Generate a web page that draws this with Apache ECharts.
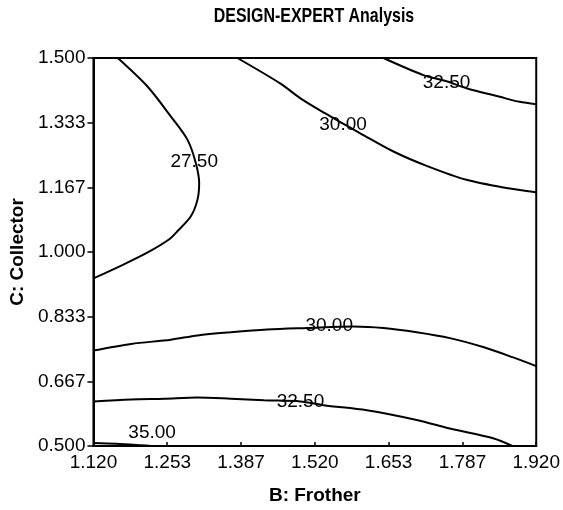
<!DOCTYPE html>
<html>
<head>
<meta charset="utf-8">
<script src="https://cdn.jsdelivr.net/npm/echarts@6/dist/echarts.min.js"></script>
<style>
html,body{margin:0;padding:0;background:#fff;}
#chart{width:563px;height:510px;}
</style>
</head>
<body>
<div id="chart"></div>
<script>
// Axis tick labels
const xTickLabels = ['1.120', '1.253', '1.387', '1.520', '1.653', '1.787', '1.920'];
const yTickLabels = ['0.500', '0.667', '0.833', '1.000', '1.167', '1.333', '1.500'];

// Contour lines [B: Frother, C: Collector]
const contour27_50 = [[1.164,1.500],[1.218,1.426],[1.260,1.349],[1.290,1.289],[1.305,1.229],[1.311,1.178],[1.308,1.135],[1.296,1.092],[1.272,1.054],[1.257,1.033],[1.218,0.999],[1.176,0.969],[1.120,0.932]];
const contour30_00a = [[1.380,1.500],[1.458,1.434],[1.494,1.396],[1.539,1.357],[1.571,1.331],[1.602,1.306],[1.662,1.259],[1.722,1.222],[1.794,1.186],[1.866,1.165],[1.920,1.154]];
const contour32_50a = [[1.644,1.500],[1.716,1.456],[1.758,1.440],[1.794,1.422],[1.854,1.400],[1.890,1.387],[1.920,1.381]];
const contour30_00b = [[1.120,0.746],[1.188,0.763],[1.260,0.774],[1.308,0.785],[1.368,0.793],[1.434,0.800],[1.506,0.804],[1.590,0.808],[1.644,0.804],[1.704,0.793],[1.764,0.778],[1.824,0.755],[1.877,0.729],[1.920,0.706]];
const contour32_50b = [[1.120,0.615],[1.188,0.620],[1.248,0.622],[1.308,0.625],[1.368,0.622],[1.428,0.618],[1.494,0.615],[1.536,0.605],[1.614,0.592],[1.704,0.567],[1.764,0.545],[1.842,0.520],[1.877,0.500]];
const contour35_00 = [[1.120,0.508],[1.161,0.506],[1.206,0.502],[1.225,0.500]];

// Contour labels [x, y, text]
const contourLabels = [[1.302,1.232,'27.50'],[1.571,1.329,'30.00'],[1.758,1.437,'32.50'],[1.546,0.809,'30.00'],[1.494,0.615,'32.50'],[1.226,0.535,'35.00']];

const contours = [contour27_50, contour30_00a, contour32_50a, contour30_00b, contour32_50b, contour35_00];

const xMin = 1.12, xMax = 1.92, yMin = 0.5, yMax = 1.5;
const xStep = (xMax - xMin) / (xTickLabels.length - 1);
const yStep = (yMax - yMin) / (yTickLabels.length - 1);

const FONT = 'Liberation Sans, Arial, sans-serif';

const series = contours.map(c => ({
  type: 'line',
  data: c,
  smooth: 0.3,
  symbol: 'none',
  lineStyle: { color: '#000', width: 2 },
  silent: true
}));
series.push({
  type: 'scatter',
  data: contourLabels,
  symbolSize: 1,
  silent: true,
  itemStyle: { opacity: 1, color: 'rgba(0,0,0,0)' },
  label: {
    show: true,
    position: 'inside',
    formatter: p => p.data[2],
    color: '#000',
    opacity: 1,
    fontFamily: FONT,
    fontSize: 19
  }
});

const chart = echarts.init(document.getElementById('chart'), null, { renderer: 'canvas' });
chart.setOption({
  animation: false,
  backgroundColor: '#fff',
  graphic: [{
    type: 'text',
    x: 314,
    y: 16,
    scaleX: 0.76,
    style: {
      text: 'DESIGN-EXPERT Analysis',
      fill: '#000',
      font: 'bold 21px Liberation Sans, Arial, sans-serif',
      align: 'center',
      verticalAlign: 'middle'
    }
  }],
  grid: { left: 92, right: 26, top: 58, bottom: 62, show: true, borderColor: '#000', borderWidth: 2, backgroundColor: 'transparent' },
  xAxis: {
    type: 'value',
    min: xMin, max: xMax, interval: xStep,
    name: 'B: Frother',
    nameLocation: 'middle',
    nameGap: 40,
    nameTextStyle: { fontFamily: FONT, fontWeight: 'bold', fontSize: 19, color: '#000' },
    axisLine: { show: true, lineStyle: { color: '#000', width: 2 } },
    axisTick: { show: true, inside: true, length: 4, lineStyle: { color: '#000', width: 1.5 } },
    axisLabel: { margin: 7, color: '#000', fontFamily: FONT, fontSize: 19,
      formatter: v => xTickLabels[Math.round((v - xMin) / xStep)] },
    splitLine: { show: false }
  },
  yAxis: {
    type: 'value',
    min: yMin, max: yMax, interval: yStep,
    name: 'C: Collector',
    nameLocation: 'middle',
    nameGap: 66,
    nameTextStyle: { fontFamily: FONT, fontWeight: 'bold', fontSize: 19, color: '#000' },
    axisLine: { show: true, lineStyle: { color: '#000', width: 2 } },
    axisTick: { show: true, inside: false, length: 6, lineStyle: { color: '#000', width: 1.5 } },
    axisLabel: { margin: 8, color: '#000', fontFamily: FONT, fontSize: 19,
      formatter: v => yTickLabels[Math.round((v - yMin) / yStep)] },
    splitLine: { show: false }
  },
  series: series
});
</script>
</body>
</html>
